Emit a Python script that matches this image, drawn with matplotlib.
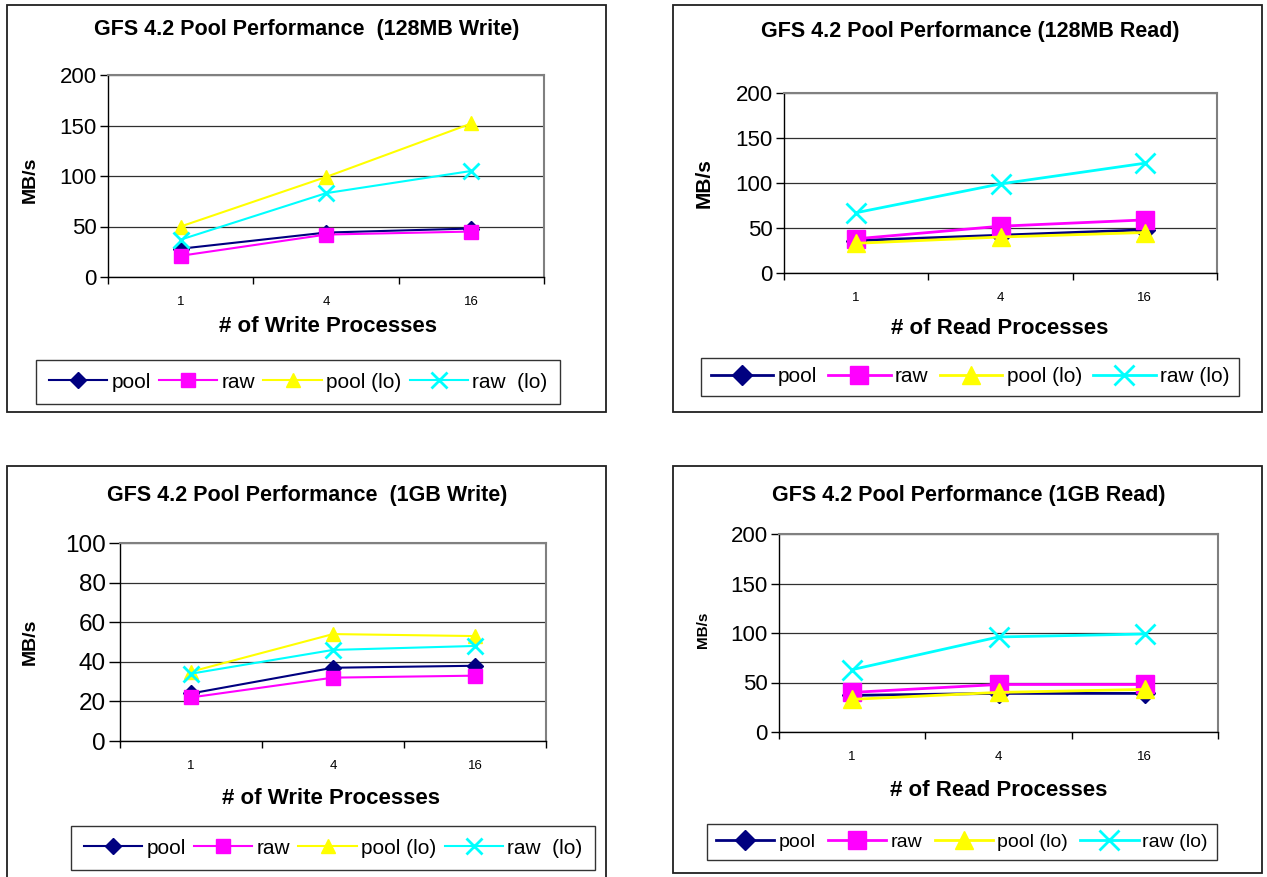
import matplotlib
matplotlib.use("Agg")
import matplotlib.pyplot as plt
from matplotlib.patches import Rectangle

plt.rcParams['font.family'] = ['Liberation Sans', 'DejaVu Sans']

categories = ['1', '4', '16']
series_names = ['pool', 'raw', 'pool (lo)', 'raw (lo)']

w128_pool = [28, 44, 48]
w128_raw = [21, 42, 45]
w128_pool_lo = [50, 99, 152]
w128_raw_lo = [37, 83, 105]

r128_pool = [36, 42, 48]
r128_raw = [38, 52, 59]
r128_pool_lo = [33, 40, 45]
r128_raw_lo = [67, 99, 122]

w1g_pool = [24, 37, 38]
w1g_raw = [22, 32, 33]
w1g_pool_lo = [35, 54, 53]
w1g_raw_lo = [34, 46, 48]

r1g_pool = [37, 39, 39]
r1g_raw = [40, 48, 48]
r1g_pool_lo = [33, 40, 43]
r1g_raw_lo = [63, 96, 99]

W, H = 1267, 877
fig = plt.figure(figsize=(W / 100, H / 100), dpi=100)

colors = ['#000080', '#FF00FF', '#FFFF00', '#00FFFF']
markers = ['D', 's', '^', 'x']


def box(x0, y0, x1, y1):
    r = Rectangle((x0 / W, 1 - y1 / H), (x1 - x0) / W, (y1 - y0) / H,
                  transform=fig.transFigure, fill=False, edgecolor='#202020',
                  linewidth=1.3)
    fig.patches.append(r)


def panel(data, rect, ymax, ystep, title, tpos, xlabel, xlpos, ylpos, ylsize,
          ytsize, ytlen, legcenter, labels, msize, lw, legfs, colsp, hlen, bpad):
    l, t, r, b = rect
    ax = fig.add_axes([l / W, 1 - b / H, (r - l) / W, (b - t) / H])
    xs = list(range(len(categories)))
    for i, ys in enumerate(data):
        ms = msize * (1.15 if markers[i] == 'x' else 1.0)
        if markers[i] == 'D':
            ms = msize * 0.8
        ax.plot(xs, ys, color=colors[i], marker=markers[i], markersize=ms,
                linewidth=lw, markeredgewidth=2 if markers[i] == 'x' else 1,
                markeredgecolor=colors[i], label=labels[i], zorder=3 + i)
    ax.set_xlim(-0.5, len(categories) - 0.5)
    ax.set_ylim(0, ymax)
    ax.set_yticks(range(0, ymax + 1, ystep))
    ax.tick_params(axis='y', labelsize=ytsize, length=ytlen, direction='out',
                   width=1, pad=2)
    ax.set_xticks(xs)
    ax.set_xticklabels(categories)
    ax.tick_params(axis='x', which='major', length=0, labelsize=9.5, pad=14)
    ax.set_xticks([x - 0.5 for x in range(len(categories) + 1)], minor=True)
    ax.tick_params(axis='x', which='minor', length=5, width=1, direction='out')
    ax.grid(axis='y', color='#303030', linewidth=0.9)
    ax.set_axisbelow(True)
    for s in ['top', 'right']:
        ax.spines[s].set_color('#808080')
        ax.spines[s].set_linewidth(1.5)
    for s in ['left', 'bottom']:
        ax.spines[s].set_color('black')
        ax.spines[s].set_linewidth(1)
    fig.text(tpos[0] / W, 1 - tpos[1] / H, title, ha='center', va='center',
             fontsize=15.5, fontweight='bold')
    fig.text(xlpos[0] / W, 1 - xlpos[1] / H, xlabel, ha='center', va='center',
             fontsize=16, fontweight='bold')
    fig.text(ylpos[0] / W, 1 - ylpos[1] / H, 'MB/s', ha='center', va='center',
             fontsize=ylsize, fontweight='bold', rotation=90)
    leg = ax.legend(loc='center', bbox_to_anchor=(legcenter[0] / W, 1 - legcenter[1] / H),
                    bbox_transform=fig.transFigure, ncol=4,
                    fontsize=legfs, frameon=True, fancybox=False, handlelength=hlen,
                    handletextpad=0.2, columnspacing=colsp, borderpad=bpad,
                    borderaxespad=0)
    leg.get_frame().set_edgecolor('black')
    leg.get_frame().set_linewidth(1)
    return ax


labels_a = ['pool', 'raw', 'pool (lo)', 'raw  (lo)']
labels_b = ['pool', 'raw', 'pool (lo)', 'raw (lo)']

box(7, 5, 606, 412)
box(673, 5, 1262, 412)
box(7, 466, 606, 880)
box(673, 466, 1262, 873)

panel([w128_pool, w128_raw, w128_pool_lo, w128_raw_lo], (108, 75, 544, 277),
      200, 50, 'GFS 4.2 Pool Performance  (128MB Write)', (307, 30),
      '# of Write Processes', (328, 326), (30, 180), 14, 16, 6,
      (298, 382), labels_a, 10, 1.5, 15, 0.4, 2.8, 0.6)

panel([r128_pool, r128_raw, r128_pool_lo, r128_raw_lo], (784, 93, 1217, 273),
      200, 50, 'GFS 4.2 Pool Performance (128MB Read)', (970, 32),
      '# of Read Processes', (1000, 328), (704, 183), 15, 16, 6,
      (970, 377), labels_b, 13, 2, 15, 0.55, 3.0, 0.45)

panel([w1g_pool, w1g_raw, w1g_pool_lo, w1g_raw_lo], (120, 543, 546, 741),
      100, 20, 'GFS 4.2 Pool Performance  (1GB Write)', (307, 495),
      '# of Write Processes', (331, 798), (30, 642), 14, 17.5, 8,
      (333, 848), labels_a, 10, 1.5, 15, 0.4, 2.8, 0.6)

panel([r1g_pool, r1g_raw, r1g_pool_lo, r1g_raw_lo], (779, 534, 1218, 732),
      200, 50, 'GFS 4.2 Pool Performance (1GB Read)', (969, 495),
      '# of Read Processes', (999, 790), (703, 630), 11, 16, 6,
      (962, 842), labels_b, 13, 2, 14, 0.65, 3.0, 0.45)

fig.savefig('out.png', dpi=100, facecolor='white')
